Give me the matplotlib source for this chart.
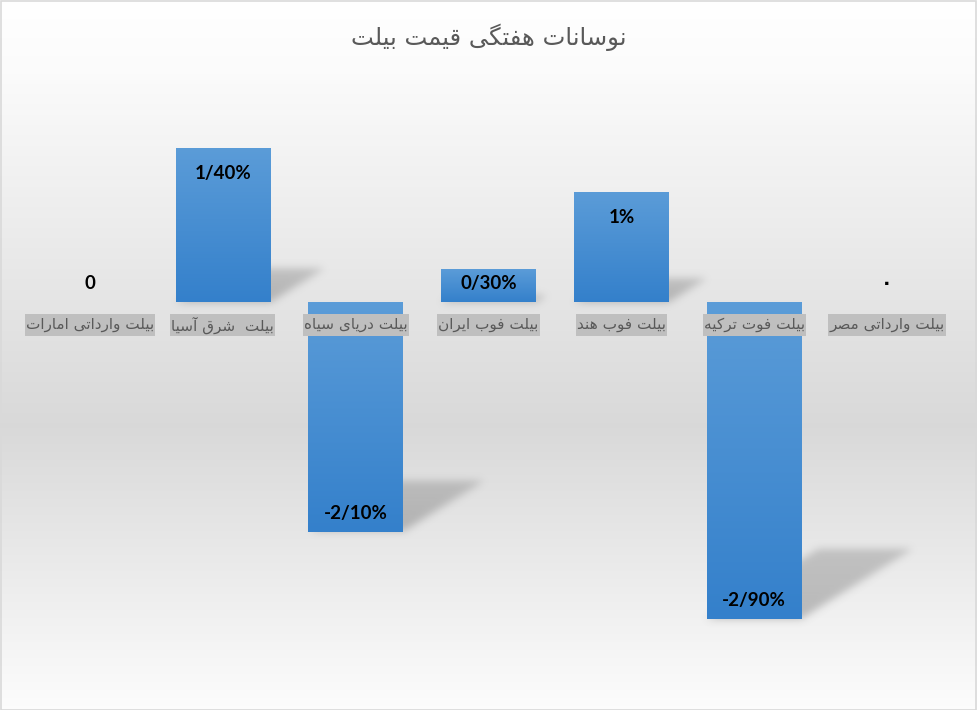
import numpy as np
import matplotlib
matplotlib.use("Agg")
import matplotlib.pyplot as plt
from matplotlib.patches import Rectangle

# ---------------- data ----------------
categories = ["بیلت وارداتی امارات", "بیلت  شرق آسیا", "بیلت دریای سیاه",
              "بیلت فوب ایران", "بیلت فوب هند", "بیلت فوت ترکیه", "بیلت وارداتی مصر"]
values = [0.0, 1.4, -2.1, 0.3, 1.0, -2.9, 0.0]
value_labels = ["0", "1/40%", "-2/10%", "0/30%", "1%", "-2/90%", "۰"]
title = "نوسانات هفتگی قیمت بیلت"

# ---------------- minimal Arabic/Persian shaping ----------------
FORMS = {
    'ا': ('\uFE8D', '\uFE8E', None, None),
    'آ': ('\uFE81', '\uFE82', None, None),
    'ب': ('\uFE8F', '\uFE90', '\uFE91', '\uFE92'),
    'ت': ('\uFE95', '\uFE96', '\uFE97', '\uFE98'),
    'د': ('\uFEA9', '\uFEAA', None, None),
    'ر': ('\uFEAD', '\uFEAE', None, None),
    'س': ('\uFEB1', '\uFEB2', '\uFEB3', '\uFEB4'),
    'ش': ('\uFEB5', '\uFEB6', '\uFEB7', '\uFEB8'),
    'ص': ('\uFEB9', '\uFEBA', '\uFEBB', '\uFEBC'),
    'ف': ('\uFED1', '\uFED2', '\uFED3', '\uFED4'),
    'ق': ('\uFED5', '\uFED6', '\uFED7', '\uFED8'),
    'ل': ('\uFEDD', '\uFEDE', '\uFEDF', '\uFEE0'),
    'م': ('\uFEE1', '\uFEE2', '\uFEE3', '\uFEE4'),
    'ن': ('\uFEE5', '\uFEE6', '\uFEE7', '\uFEE8'),
    'ه': ('\uFEE9', '\uFEEA', '\uFEEB', '\uFEEC'),
    'و': ('\uFEED', '\uFEEE', None, None),
    'ک': ('\uFB8E', '\uFB8F', '\uFB90', '\uFB91'),
    'گ': ('\uFB92', '\uFB93', '\uFB94', '\uFB95'),
    'ی': ('\uFBFC', '\uFBFD', '\uFBFE', '\uFBFF'),
}


def shape(s):
    out = []
    n = len(s)
    for i, c in enumerate(s):
        f = FORMS.get(c)
        if f is None:
            out.append(c)
            continue
        prev = s[i - 1] if i > 0 else None
        nxt = s[i + 1] if i < n - 1 else None
        jp = prev in FORMS and FORMS[prev][2] is not None
        jn = nxt in FORMS and f[2] is not None
        if jp and jn:
            out.append(f[3])
        elif jp:
            out.append(f[1])
        elif jn:
            out.append(f[2])
        else:
            out.append(f[0])
    return ''.join(out)[::-1]


# ---------------- figure ----------------
W, H = 977, 710
fig = plt.figure(figsize=(W / 100, H / 100), dpi=100)

# background gradient
bg = fig.add_axes([0, 0, 1, 1], zorder=0)
ys = np.linspace(0, 1, 400)
stops_p = [0.0, 0.1, 0.6, 1.0]
stops_v = [1.0, 0.985, 0.85, 0.99]
g = np.interp(ys, stops_p, stops_v)
grad = np.repeat(g[:, None, None], 3, axis=2)
bg.imshow(grad, aspect='auto', extent=[0, 1, 0, 1], interpolation='bilinear')
bg.set_xlim(0, 1)
bg.set_ylim(0, 1)
bg.axis('off')
fig.patches.append(Rectangle((0.5 / W, 0.5 / H), 1 - 1.5 / W, 1 - 1.5 / H, transform=fig.transFigure,
                             fill=False, ec='#d9d9d9', lw=1.2, zorder=10))

# main axes
x_lo, x_hi = -0.5, 6.5
y_lo, y_hi = -3.0, 1.6
left_px, right_px = 23.5, 953.5
top_px, bot_px = 127.1, 629.9
ax = fig.add_axes([left_px / W, 1 - bot_px / H, (right_px - left_px) / W, (bot_px - top_px) / H], zorder=1)
ax.patch.set_alpha(0)
ax.axis('off')

bar_w = 0.71
top_col = np.array([0x5b, 0x9c, 0xd8]) / 255
bot_col = np.array([0x34, 0x80, 0xcb]) / 255

# shadows
nx, ny = int(right_px - left_px), int(bot_px - top_px)
X = np.linspace(x_lo, x_hi, nx)
Y = np.linspace(y_hi, y_lo, ny)
XX, YY = np.meshgrid(X, Y)
px_per_x = (right_px - left_px) / (x_hi - x_lo)
px_per_y = (bot_px - top_px) / (y_hi - y_lo)
mask = np.zeros_like(XX)
for i, v in enumerate(values):
    if v == 0:
        continue
    h = abs(v)
    yb = min(0.0, v)
    sh_h = 0.22 * h
    sh_dx = 0.35 * h * px_per_y / px_per_x
    t = (YY - yb) / sh_h
    inside = (t >= 0) & (t <= 1)
    xl = i - bar_w / 2 + t * sh_dx
    xr = i + bar_w / 2 + t * sh_dx
    inside &= (XX >= xl) & (XX <= xr)
    mask = np.maximum(mask, np.where(inside, 1.0 - 0.25 * t, 0.0))

sig = 4.0
k = np.arange(-15, 16)
kern = np.exp(-k ** 2 / (2 * sig ** 2))
kern /= kern.sum()
mask = np.apply_along_axis(lambda r: np.convolve(r, kern, mode='same'), 1, mask)
mask = np.apply_along_axis(lambda c: np.convolve(c, kern, mode='same'), 0, mask)
shadow = np.zeros((ny, nx, 4))
shadow[..., :3] = 0.42
shadow[..., 3] = np.clip(mask, 0, 1) * 0.42
ax.imshow(shadow, extent=[x_lo, x_hi, y_lo, y_hi], aspect='auto', zorder=2, interpolation='bilinear')

# bars with gradient
tt = np.linspace(0, 1, 200)[:, None]
bar_grad = (top_col[None, :] * (1 - tt) + bot_col[None, :] * tt)[:, None, :]
for i, v in enumerate(values):
    if v == 0:
        continue
    yb, yt = min(0.0, v), max(0.0, v)
    ax.imshow(bar_grad, extent=[i - bar_w / 2, i + bar_w / 2, yb, yt], aspect='auto',
              zorder=3, interpolation='bilinear')

# data labels
for i, (v, lab) in enumerate(zip(values, value_labels)):
    bar_px = abs(v) * px_per_y
    if v > 0:
        off = -min(25, 0.45 * bar_px)
    else:
        off = 18
    ax.annotate(lab, xy=(i, v), xytext=(0, off), textcoords='offset pixels',
                ha='center', va='center', fontsize=13.5, fontweight='bold',
                family=['Lato', 'DejaVu Sans'], color='black', zorder=6)

ax.set_xlim(x_lo, x_hi)
ax.set_ylim(y_lo, y_hi)

# category labels with fixed-height grey boxes
cat_texts = []
for i, c in enumerate(categories):
    t = ax.annotate(shape(c), xy=(i, 0), xytext=(0, -23), textcoords='offset pixels',
                    ha='center', va='center', fontsize=11, color='#595959',
                    family=['DejaVu Sans'], zorder=5)
    cat_texts.append(t)

fig.canvas.draw()
renderer = fig.canvas.get_renderer()
zero_y = ax.transData.transform((0, 0))[1]
box_h = 22
for t in cat_texts:
    ext = t.get_window_extent(renderer)
    x0, x1 = ext.x0 - 1, ext.x1 + 1
    yc = zero_y - 23
    ax.add_patch(Rectangle((x0 / W, (yc - box_h / 2) / H), (x1 - x0) / W, box_h / H,
                           transform=fig.transFigure, fc='#bfbfbf', ec='none', zorder=4.5,
                           clip_on=False))

fig.text(488.5 / W, 1 - 37 / H, shape(title), ha='center', va='center', fontsize=17.5,
         color='#595959', family=['DejaVu Sans'])

fig.savefig('out.png', dpi=100)
